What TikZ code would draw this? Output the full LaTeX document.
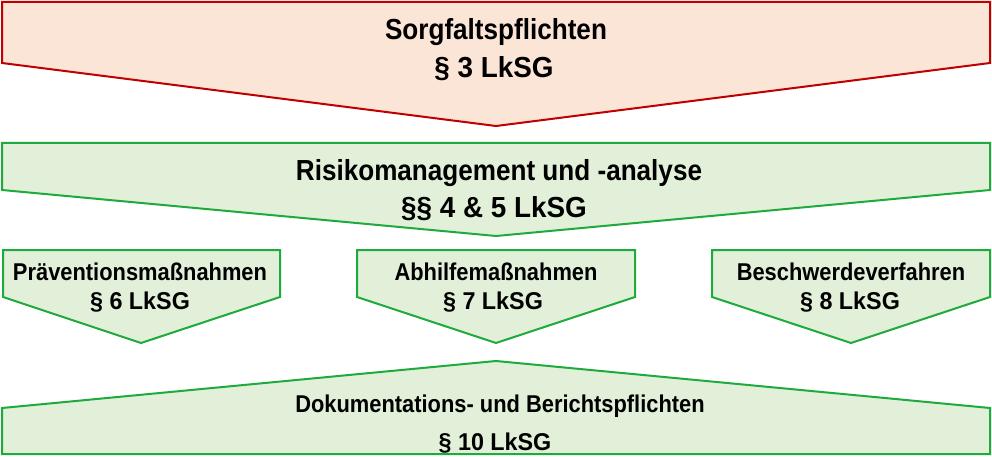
\documentclass[tikz,border=0pt]{standalone}
\usepackage{fontspec}
\setmainfont{Liberation Sans}[FakeStretch=0.9]
\newfontfamily\lawfont{Liberation Sans}[FakeStretch=0.96]
\definecolor{redline}{HTML}{C00000}
\definecolor{redfill}{HTML}{FBE5D6}
\definecolor{greenline}{HTML}{1EAA3C}
\definecolor{greenfill}{HTML}{E2F0D9}
\tikzset{
  redshape/.style={draw=redline, fill=redfill, line width=2pt, line join=miter},
  greenshape/.style={draw=greenline, fill=greenfill, line width=2pt, line join=miter},
  bigtext/.style={anchor=base, inner sep=0pt, font=\bfseries\fontsize{29}{35}\selectfont},
  biglaw/.style={anchor=base, inner sep=0pt, font=\lawfont\bfseries\fontsize{29}{35}\selectfont},
  smalltext/.style={anchor=base, inner sep=0pt, font=\bfseries\fontsize{24.3}{28}\selectfont},
  smalllaw/.style={anchor=base, inner sep=0pt, font=\lawfont\bfseries\fontsize{24.3}{28}\selectfont}
}
\begin{document}
\begin{tikzpicture}[x=1pt, y=-1pt]
\useasboundingbox (0,0) rectangle (992,457);
% top
\draw[redshape] (2,2) -- (990,2) -- (990,63) -- (496,126) -- (2,63) -- cycle;
\node[bigtext] (t1) at (496,40) {Sorgfaltspflichten};
\node[biglaw] (t1l) at (494,78) {§ 3 LkSG};
% middle
\draw[greenshape] (2,143) -- (990,143) -- (990,190) -- (496,236) -- (2,190) -- cycle;
\node[bigtext] (t2) at (499,181) {Risikomanagement und -analyse};
\node[biglaw] (t2l) at (494,217) {§§ 4 \& 5 LkSG};
% three small chevrons
\draw[greenshape] (3,250) -- (280,250) -- (280,297) -- (141,343) -- (3,297) -- cycle;
\node[smalltext] (s1) at (140,280) {Präventionsmaßnahmen};
\node[smalllaw] (s1l) at (140,309) {§ 6 LkSG};
\draw[greenshape] (357,250) -- (635,250) -- (635,297) -- (496,343) -- (357,297) -- cycle;
\node[smalltext] (s2) at (496,280) {Abhilfemaßnahmen};
\node[smalllaw] (s2l) at (493,309) {§ 7 LkSG};
\draw[greenshape] (712,250) -- (990,250) -- (990,297) -- (851,343) -- (712,297) -- cycle;
\node[smalltext] (s3) at (851,280) {Beschwerdeverfahren};
\node[smalllaw] (s3l) at (850,309) {§ 8 LkSG};
% bottom
\draw[greenshape] (2,408) -- (496,361) -- (990,408) -- (990,454) -- (2,454) -- cycle;
\node[smalltext] (b1) at (500,412) {Dokumentations- und Berichtspflichten};
\node[smalllaw] (b1l) at (495,450) {§ 10 LkSG};
\end{tikzpicture}
\end{document}
